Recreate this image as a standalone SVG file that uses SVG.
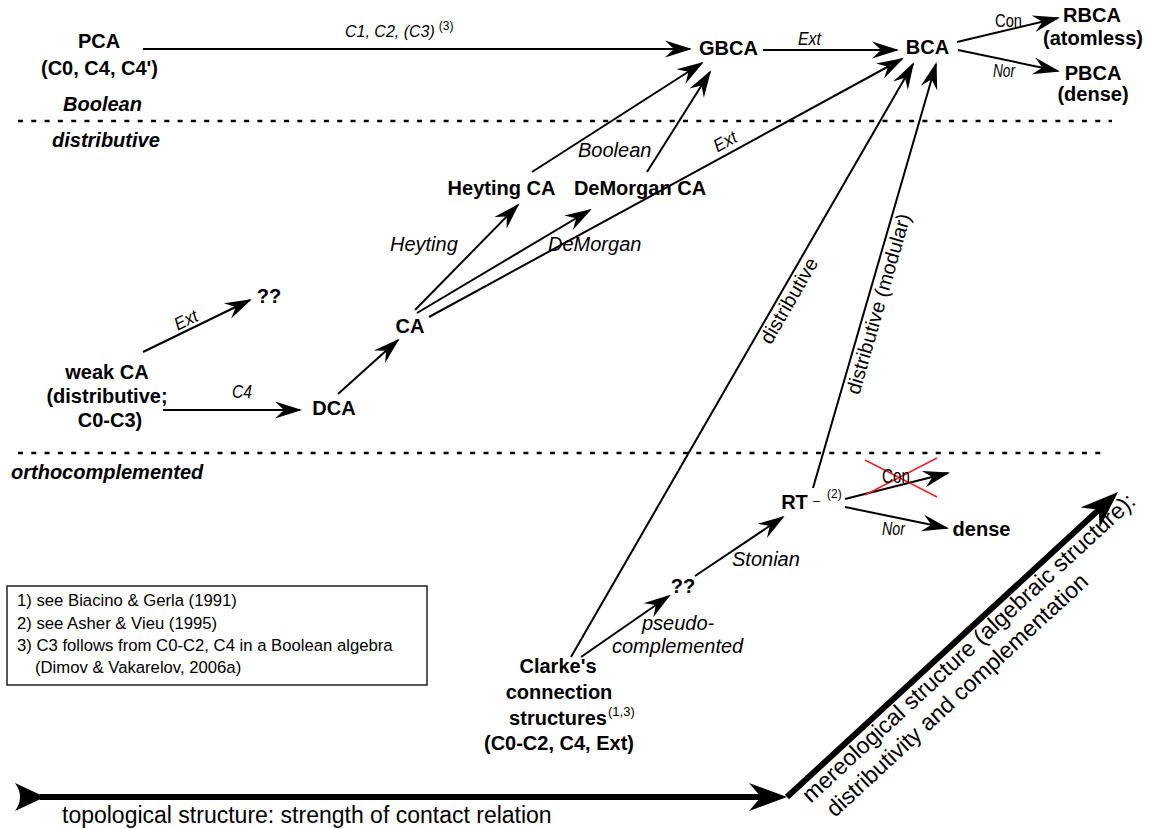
<svg xmlns="http://www.w3.org/2000/svg" width="1151" height="829" viewBox="0 0 1151 829">
<defs>
<style>
text{font-family:"Liberation Sans",Arial,sans-serif;fill:#000}
.n{font-size:20px;font-weight:bold;text-anchor:middle}
.cat{font-size:20px;font-weight:bold;font-style:italic}
.lb{font-size:20px;font-style:italic}
.nl{font-size:18px;font-style:italic}
.up{font-size:19px}
.rl{font-size:20px;text-anchor:middle}
.sup{font-size:12px}
.fn{font-size:16.7px}
.big{font-size:23px}
.c{stroke:#000;stroke-width:2;fill:none;marker-end:url(#ah)}
.dash{stroke:#000;stroke-width:2.5;stroke-dasharray:5 8.3}
.thick{stroke:#000;stroke-width:6;fill:none}
.x{stroke:#e8262a;stroke-width:1.5}
</style>
<marker id="ah" markerUnits="userSpaceOnUse" orient="auto" overflow="visible" markerWidth="1" markerHeight="1">
<path d="M2,0 L-25,-8.5 L-16,0 L-25,8.5 Z" fill="#000"/>
</marker>
<marker id="bh" markerUnits="userSpaceOnUse" orient="auto" overflow="visible" markerWidth="1" markerHeight="1">
<path d="M20,0 L-18,-14 L-6,0 L-18,14 Z" fill="#000"/>
</marker>
<marker id="bt" markerUnits="userSpaceOnUse" orient="auto" overflow="visible" markerWidth="1" markerHeight="1">
<path d="M5,0 L-25,-14 Q-15,0 -25,14 Z" fill="#000"/>
</marker>
</defs>
<rect width="1151" height="829" fill="#fff"/>

<g id="separators">
<line class="dash" x1="18" y1="121" x2="1112" y2="121"/>
<line class="dash" x1="18" y1="453" x2="1107" y2="453"/>
<text class="cat" x="63" y="111">Boolean</text>
<text class="cat" x="52" y="147">distributive</text>
<text class="cat" x="11" y="479">orthocomplemented</text>
</g>

<g id="connectors">
<line class="c" x1="143" y1="49" x2="690" y2="49"/>
<line class="c" x1="763" y1="50" x2="897" y2="50"/>
<line class="c" x1="957" y1="42" x2="1058" y2="18"/>
<line class="c" x1="958" y1="50" x2="1058" y2="71"/>
<line class="c" x1="532" y1="172" x2="702" y2="63"/>
<line class="c" x1="647" y1="172" x2="710" y2="72"/>
<line class="c" x1="415" y1="310" x2="518" y2="205"/>
<line class="c" x1="417" y1="313" x2="590" y2="210"/>
<line class="c" x1="429" y1="317" x2="902" y2="59"/>
<line class="c" x1="143" y1="352" x2="250" y2="300"/>
<line class="c" x1="163" y1="410" x2="300" y2="410"/>
<line class="c" x1="338" y1="394" x2="398" y2="340"/>
<line class="c" x1="571" y1="657" x2="913" y2="64"/>
<line class="c" x1="813" y1="488" x2="936" y2="64"/>
<line class="c" x1="845" y1="499" x2="948" y2="473"/>
<line class="c" x1="845" y1="507" x2="947" y2="528"/>
<line class="c" x1="695" y1="576" x2="783" y2="517"/>
<line class="c" x1="581" y1="657" x2="669" y2="596"/>
<line class="x" x1="865" y1="460" x2="937" y2="497"/>
<line class="x" x1="865" y1="495" x2="937" y2="458"/>

<text class="nl" x="345" y="37" style="font-size:16px">C1, C2, (C3)<tspan dx="4" dy="-7" style="font-size:12px;font-style:normal">(3)</tspan></text>
<text class="nl" x="798" y="45" textLength="23" lengthAdjust="spacingAndGlyphs">Ext</text>
<text class="up" x="995" y="27" textLength="27" lengthAdjust="spacingAndGlyphs">Con</text>
<text class="nl" x="993" y="77" textLength="22" lengthAdjust="spacingAndGlyphs">Nor</text>
<text class="lb" x="578" y="157">Boolean</text>
<text class="nl" transform="translate(730.4,151.1) rotate(-28.8)" x="-12" y="-5" textLength="24" lengthAdjust="spacingAndGlyphs">Ext</text>
<text class="lb" x="390" y="251">Heyting</text>
<text class="lb" x="548" y="251">DeMorgan</text>
<text class="nl" transform="translate(190.4,329) rotate(-25.9)" x="-12" y="-4" textLength="24" lengthAdjust="spacingAndGlyphs">Ext</text>
<text class="nl" x="232" y="398" textLength="20" lengthAdjust="spacingAndGlyphs">C4</text>
<text class="rl" transform="translate(779.3,295.1) rotate(-60.07)" x="0" y="18">distributive</text>
<text class="rl" transform="translate(866.7,300.5) rotate(-73.98)" x="0" y="19">distributive (modular)</text>
<text class="up" x="882" y="483" textLength="28" lengthAdjust="spacingAndGlyphs" style="font-size:20px">Con</text>
<text class="nl" x="882" y="535" textLength="23" lengthAdjust="spacingAndGlyphs">Nor</text>
<text class="lb" x="732" y="566">Stonian</text>
<text class="lb" x="642" y="630">pseudo-</text>
<text class="lb" x="612" y="653">complemented</text>
</g>

<g id="PCA"><text class="n" x="99" y="48">PCA</text><text class="n" x="99.5" y="75">(C0, C4, C4')</text></g>
<g id="GBCA"><text class="n" x="728.5" y="55">GBCA</text></g>
<g id="BCA"><text class="n" x="927.5" y="54">BCA</text></g>
<g id="RBCA"><text class="n" x="1092" y="22">RBCA</text><text class="n" x="1093" y="45">(atomless)</text></g>
<g id="PBCA"><text class="n" x="1093" y="80">PBCA</text><text class="n" x="1093" y="101">(dense)</text></g>
<g id="HeytingCA"><text class="n" x="501.5" y="195">Heyting CA</text></g>
<g id="DeMorganCA"><text class="n" x="640" y="195">DeMorgan CA</text></g>
<g id="CA"><text class="n" x="410" y="333">CA</text></g>
<g id="unknown1"><text class="n" x="269" y="303">??</text></g>
<g id="DCA"><text class="n" x="334" y="415">DCA</text></g>
<g id="weakCA"><text class="n" x="107" y="379">weak CA</text><text class="n" x="107" y="403">(distributive;</text><text class="n" x="110" y="427">C0-C3)</text></g>
<g id="RT"><text class="n" x="794.5" y="509">RT</text><text x="813" y="505" style="font-size:12px">–</text><text class="sup" x="827" y="498">(2)</text></g>
<g id="dense"><text class="n" x="981.5" y="536">dense</text></g>
<g id="unknown2"><text class="n" x="683" y="593">??</text></g>
<g id="Clarke"><text class="n" x="558" y="673">Clarke's</text><text class="n" x="559" y="699">connection</text><text class="n" x="558" y="725">structures</text><text class="sup" x="608" y="716" style="font-size:13px">(1,3)</text><text class="n" x="559" y="750">(C0-C2, C4, Ext)</text></g>

<g id="footnotes">
<rect x="7" y="586" width="420" height="99" fill="none" stroke="#000" stroke-width="1.3"/>
<text class="fn" x="17" y="606">1) see Biacino &amp; Gerla (1991)</text>
<text class="fn" x="17" y="629">2) see Asher &amp; Vieu (1995)</text>
<text class="fn" x="17" y="651">3) C3 follows from C0-C2, C4 in a Boolean algebra</text>
<text class="fn" x="35" y="673">(Dimov &amp; Vakarelov, 2006a)</text>
</g>

<g id="axes">
<path class="thick" d="M40,797 L767,797" marker-start="url(#bt)" marker-end="url(#bh)"/>
<path class="thick" d="M787,797 L1103.3,505.6" marker-end="url(#bh)"/>
<text class="big" x="62" y="823">topological structure: strength of contact relation</text>
<g transform="translate(787,797) rotate(-42.66)">
<text class="big" x="13" y="21">mereological structure (algebraic structure):</text>
<text class="big" x="21" y="48">distributivity and complementation</text>
</g>
</g>
</svg>
